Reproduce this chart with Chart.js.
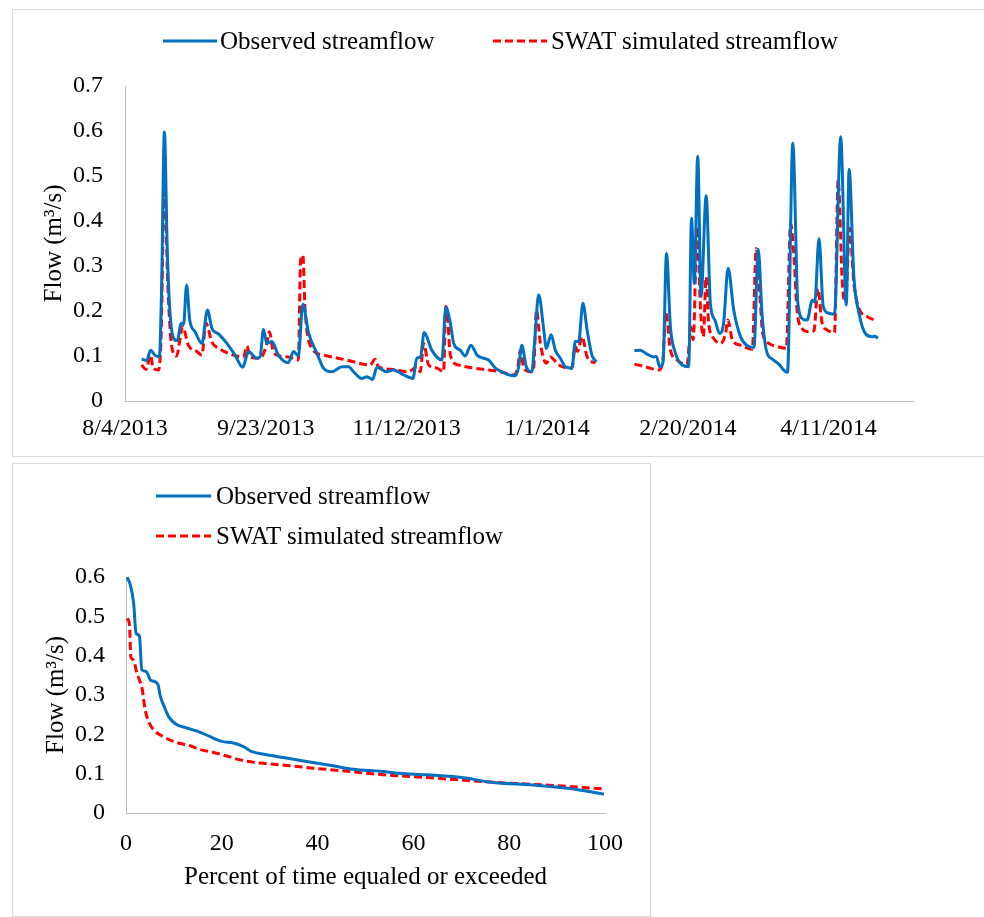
<!DOCTYPE html>
<html>
<head>
<meta charset="utf-8">
<script src="https://cdn.jsdelivr.net/npm/chart.js@4.4.1/dist/chart.umd.min.js"></script>
<style>
  html, body { margin: 0; padding: 0; background: #fff; overflow: hidden; }
  body { width: 984px; height: 917px; position: relative; font-family: "Liberation Serif", "Times New Roman", serif; }
  .box { position: absolute; border: 1px solid #d9d9d9; background: #fff; }
  .box canvas { position: absolute; left: 0; top: 0; }
  .leg { position: absolute; display: flex; align-items: center; height: 28px; font-size: 25px; color: #000; white-space: nowrap; }
  .leg svg { display: block; }
</style>
</head>
<body>

<div class="box" id="topBox" style="left:12px; top:9px; width:973px; height:446px;">
  <canvas id="flowChart" width="973" height="446"></canvas>
</div>
<div class="leg" style="left:163px; top:27px;">
  <svg width="54" height="6"><line x1="0" y1="3" x2="54" y2="3" stroke="#0070C0" stroke-width="3"/></svg>
  <span style="margin-left:3px">Observed streamflow</span>
</div>
<div class="leg" style="left:493px; top:27px;">
  <svg width="54" height="6"><line x1="0" y1="3" x2="54" y2="3" stroke="#FF0000" stroke-width="3" stroke-dasharray="8 4"/></svg>
  <span style="margin-left:4px">SWAT simulated streamflow</span>
</div>

<div class="box" id="bottomBox" style="left:12px; top:463px; width:637px; height:452px;">
  <canvas id="fdcChart" width="637" height="452"></canvas>
</div>
<div class="leg" style="left:156px; top:482px;">
  <svg width="55" height="6"><line x1="0" y1="3" x2="55" y2="3" stroke="#0070C0" stroke-width="3"/></svg>
  <span style="margin-left:5px">Observed streamflow</span>
</div>
<div class="leg" style="left:156px; top:522px;">
  <svg width="55" height="6"><line x1="0" y1="3" x2="55" y2="3" stroke="#FF0000" stroke-width="3" stroke-dasharray="8 4"/></svg>
  <span style="margin-left:5px">SWAT simulated streamflow</span>
</div>

<script>
// days counted from 8/4/2013
const tickDays = [0, 50, 100, 150, 200, 250];
const tickDates = ['8/4/2013', '9/23/2013', '11/12/2013', '1/1/2014', '2/20/2014', '4/11/2014'];

const obsDays = [5.9, 7.7, 9.1, 10.6, 12.2, 13.0, 14.0, 15.0, 15.6, 16.3, 17.2, 18.6, 19.9, 20.8, 21.9, 23.0, 24.9, 27.3, 29.3, 30.9,
  33.2, 36.2, 39.1, 41.8, 43.9, 46.8, 48.0, 49.2, 50.4, 52.2, 54.5, 58.0, 59.9, 61.6, 63.2, 65.2, 68.2, 70.5, 73.5, 77.1,
  79.4, 81.2, 84.1, 85.9, 88.0, 89.5, 93.0, 95.4, 99.0, 102.3, 103.7, 105.0, 106.3, 109.0, 112.6, 114.0, 115.6, 116.8, 119.1, 120.9,
  122.9, 125.1, 127.4, 129.2, 131.6, 134.0, 136.3, 138.7, 139.9, 141.0, 142.6, 144.6, 145.5, 147.0, 148.8, 149.7, 151.4, 152.9, 154.7, 156.5,
  158.8, 160.0, 161.2, 162.7, 164.2, 165.9, 167.5, 174,
  181.0, 183.1, 185.5, 187.9, 188.8, 190.0, 191.2, 192.4, 193.8, 195.6, 198.0, 200.3, 201.3, 202.3, 203.5, 204.7, 206.5, 208.0, 209.6, 211.3,
  212.7, 214.3, 216.3, 218.7, 221.7, 223.5, 225.0, 226.4, 228.0, 230.0, 232.3, 234.5, 235.4, 237.3, 239.1, 241.2, 242.4, 244.2, 245.1, 246.6,
  248.1, 250.1, 252.1, 254.3, 256.3, 257.3, 259.0, 260.8, 263.2, 265.5, 266.6, 267.5];
const obsFlow = [0.093, 0.090, 0.113, 0.102, 0.098, 0.25, 0.598, 0.34, 0.24, 0.173, 0.14, 0.134, 0.173, 0.17, 0.258, 0.18, 0.154, 0.128, 0.202, 0.161,
  0.149, 0.128, 0.102, 0.075, 0.110, 0.095, 0.098, 0.159, 0.128, 0.132, 0.102, 0.085, 0.11, 0.1, 0.215, 0.152, 0.106, 0.073, 0.065, 0.076,
  0.076, 0.065, 0.05, 0.054, 0.048, 0.075, 0.065, 0.069, 0.058, 0.05, 0.095, 0.098, 0.152, 0.113, 0.091, 0.208, 0.173, 0.128, 0.113, 0.1,
  0.124, 0.102, 0.095, 0.091, 0.073, 0.065, 0.058, 0.056, 0.076, 0.124, 0.076, 0.065, 0.128, 0.236, 0.158, 0.117, 0.147, 0.113, 0.095, 0.076,
  0.073, 0.132, 0.132, 0.217, 0.158, 0.102, 0.087, null,
  0.112, 0.113, 0.104, 0.098, 0.099, 0.076, 0.087, 0.328, 0.165, 0.106, 0.08, 0.076, 0.406, 0.261, 0.544, 0.232, 0.456, 0.217, 0.18, 0.15,
  0.173, 0.295, 0.202, 0.143, 0.121, 0.119, 0.337, 0.19, 0.11, 0.093, 0.082, 0.066, 0.064, 0.573, 0.217, 0.181, 0.18, 0.224, 0.22, 0.361,
  0.21, 0.195, 0.193, 0.587, 0.213, 0.515, 0.276, 0.195, 0.149, 0.143, 0.144, 0.139];

const simDays = [5.9, 7.5, 9.1, 10.0, 11.9, 12.8, 14.0, 15.2, 16.6, 18.4, 19.3, 20.5, 22.5, 25.5, 27.3, 28.8, 30.8, 33.8, 38.5, 42.1,
  43.3, 44.5, 48.0, 50.4, 51.3, 52.7, 55.1, 58.7, 61.6, 62.4, 63.2, 64.0, 66.4, 70.5, 78.8, 87.1, 88.9, 90.0, 95.4, 100.7,
  103.7, 104.9, 106.1, 107.9, 110.9, 113.2, 114.0, 114.5, 115.6, 118.5, 123.9, 128.0, 133.4, 138.1, 139.5, 140.5, 141.7, 144.1, 145.2, 146.2,
  147.6, 149.7, 151.1, 154.1, 158.8, 160.0, 160.8, 162.4, 164.2, 167.1, 174,
  181.0, 185.5, 189.6, 191.0, 192.2, 193.8, 196.2, 199.7, 200.5, 201.0, 201.9, 203.3, 204.5, 205.5, 206.5, 207.4, 209.2, 211.6, 213.4, 214.2,
  215.8, 218.7, 222.9, 224.3, 225.6, 226.6, 228.8, 231.7, 235.0, 236.5, 237.7, 238.8, 240.6, 243.0, 244.8, 246.2, 247.7, 249.5, 252.1, 253.4,
  254.9, 256.0, 257.5, 259.0, 260.8, 263.8, 267.3];
const simFlow = [0.08, 0.07, 0.102, 0.073, 0.069, 0.136, 0.491, 0.261, 0.121, 0.1, 0.128, 0.165, 0.124, 0.11, 0.102, 0.173, 0.132, 0.115, 0.102, 0.098,
  0.122, 0.098, 0.095, 0.128, 0.154, 0.11, 0.1, 0.097, 0.091, 0.313, 0.324, 0.202, 0.117, 0.102, 0.091, 0.08, 0.093, 0.076, 0.07, 0.065,
  0.076, 0.065, 0.128, 0.08, 0.073, 0.065, 0.21, 0.2, 0.102, 0.08, 0.073, 0.07, 0.065, 0.058, 0.073, 0.113, 0.073, 0.065, 0.073, 0.202,
  0.128, 0.084, 0.098, 0.08, 0.073, 0.121, 0.11, 0.143, 0.098, 0.084, null,
  0.082, 0.075, 0.069, 0.084, 0.195, 0.113, 0.091, 0.08, 0.128, 0.165, 0.136, 0.387, 0.202, 0.143, 0.276, 0.173, 0.139, 0.128, 0.15, 0.18,
  0.136, 0.124, 0.115, 0.339, 0.232, 0.15, 0.128, 0.121, 0.117, 0.395, 0.321, 0.202, 0.161, 0.154, 0.156, 0.25, 0.173, 0.158, 0.152, 0.491,
  0.261, 0.217, 0.384, 0.261, 0.206, 0.187, 0.178];

// flow duration curve
const fdcObsPct = [0.2, 0.9, 1.6, 2.1, 2.8, 3.3, 4.2, 5.1, 5.8, 6.7, 7.1, 8.0, 8.9, 10.3, 12.7, 15.5, 17.6, 20, 22.4, 24.5,
  26.3, 29.4, 32.8, 37.7, 43.2, 47.4, 53, 57.1, 63, 70.9, 76.2, 85, 92.2, 99.8];
const fdcObsFlow = [0.6, 0.58, 0.533, 0.457, 0.45, 0.364, 0.36, 0.338, 0.335, 0.326, 0.30, 0.27, 0.245, 0.227, 0.216, 0.205, 0.194, 0.182, 0.178, 0.169,
  0.156, 0.148, 0.141, 0.131, 0.12, 0.111, 0.106, 0.101, 0.097, 0.089, 0.078, 0.071, 0.063, 0.048];
const fdcSimPct = [0.3, 0.75, 1.0, 1.6, 2.1, 2.8, 3.3, 4.0, 4.9, 5.8, 7.8, 10.6, 13.4, 15.5, 18.3, 21, 23.8, 28, 33.5, 39.1,
  44.6, 50.2, 56.4, 63, 70.9, 80, 92.2, 99.8];
const fdcSimFlow = [0.495, 0.474, 0.397, 0.389, 0.364, 0.338, 0.321, 0.262, 0.228, 0.211, 0.194, 0.179, 0.171, 0.161, 0.154, 0.145, 0.135, 0.127, 0.121, 0.114,
  0.108, 0.101, 0.095, 0.09, 0.083, 0.076, 0.068, 0.061];

const toPoints = (xs, ys) => xs.map((x, i) => ({x: x, y: ys[i]}));

const tickFont = {family: '"Liberation Serif", "Times New Roman", serif', size: 24};
const titleFont = {family: '"Liberation Serif", "Times New Roman", serif', size: 25};
const axisColor = '#bfbfbf';

const lineSet = (label, pts, color, dash) => ({
  label: label,
  data: pts,
  borderColor: color,
  backgroundColor: color,
  borderWidth: 3,
  borderDash: dash,
  pointRadius: 0,
  fill: false,
  spanGaps: false,
  cubicInterpolationMode: 'monotone'
});

new Chart(document.getElementById('flowChart'), {
  type: 'line',
  data: {
    datasets: [
      lineSet('Observed streamflow', toPoints(obsDays, obsFlow), '#0070C0', []),
      lineSet('SWAT simulated streamflow', toPoints(simDays, simFlow), '#FF0000', [8, 4])
    ]
  },
  options: {
    responsive: false,
    animation: false,
    layout: {padding: {left: 0, right: 73, top: 76, bottom: 0}},
    plugins: {legend: {display: false}, tooltip: {enabled: false}},
    scales: {
      x: {
        type: 'linear',
        min: 0,
        max: 280,
        afterBuildTicks: s => { s.ticks = tickDays.map(v => ({value: v})); },
        afterFit: s => { s.height = 55; },
        grid: {display: false, drawTicks: false},
        border: {display: true, color: axisColor, width: 1},
        ticks: {
          autoSkip: false, maxRotation: 0, padding: 13, color: '#000', font: tickFont,
          callback: v => tickDates[tickDays.indexOf(v)]
        }
      },
      y: {
        min: 0,
        max: 0.7,
        afterFit: s => { s.width = 112; },
        grid: {display: false, drawTicks: false},
        border: {display: true, color: axisColor, width: 1},
        ticks: {stepSize: 0.1, padding: 22, color: '#000', font: tickFont,
          callback: v => v === 0 ? '0' : v.toFixed(1)},
        title: {display: true, text: 'Flow (m³/s)', color: '#000', font: titleFont, padding: {top: 26, bottom: 0}}
      }
    }
  }
});

new Chart(document.getElementById('fdcChart'), {
  type: 'line',
  data: {
    datasets: [
      lineSet('Observed streamflow', toPoints(fdcObsPct, fdcObsFlow), '#0070C0', []),
      lineSet('SWAT simulated streamflow', toPoints(fdcSimPct, fdcSimFlow), '#FF0000', [8, 4])
    ]
  },
  options: {
    responsive: false,
    animation: false,
    layout: {padding: {left: 0, right: 45, top: 113, bottom: 0}},
    plugins: {legend: {display: false}, tooltip: {enabled: false}},
    scales: {
      x: {
        type: 'linear',
        min: 0,
        max: 100,
        afterFit: s => { s.height = 103; },
        grid: {display: false, drawTicks: false},
        border: {display: true, color: axisColor, width: 1},
        ticks: {stepSize: 20, autoSkip: false, maxRotation: 0, padding: 16, color: '#000', font: tickFont},
        title: {display: true, text: 'Percent of time equaled or exceeded', color: '#000', font: titleFont, padding: {top: 0, bottom: 24}}
      },
      y: {
        min: 0,
        max: 0.6,
        afterFit: s => { s.width = 113; },
        grid: {display: false, drawTicks: false},
        border: {display: true, color: axisColor, width: 1},
        ticks: {stepSize: 0.1, padding: 21, color: '#000', font: tickFont,
          callback: v => v === 0 ? '0' : v.toFixed(1)},
        title: {display: true, text: 'Flow (m³/s)', color: '#000', font: titleFont, padding: {top: 28, bottom: 0}}
      }
    }
  }
});
</script>
</body>
</html>
